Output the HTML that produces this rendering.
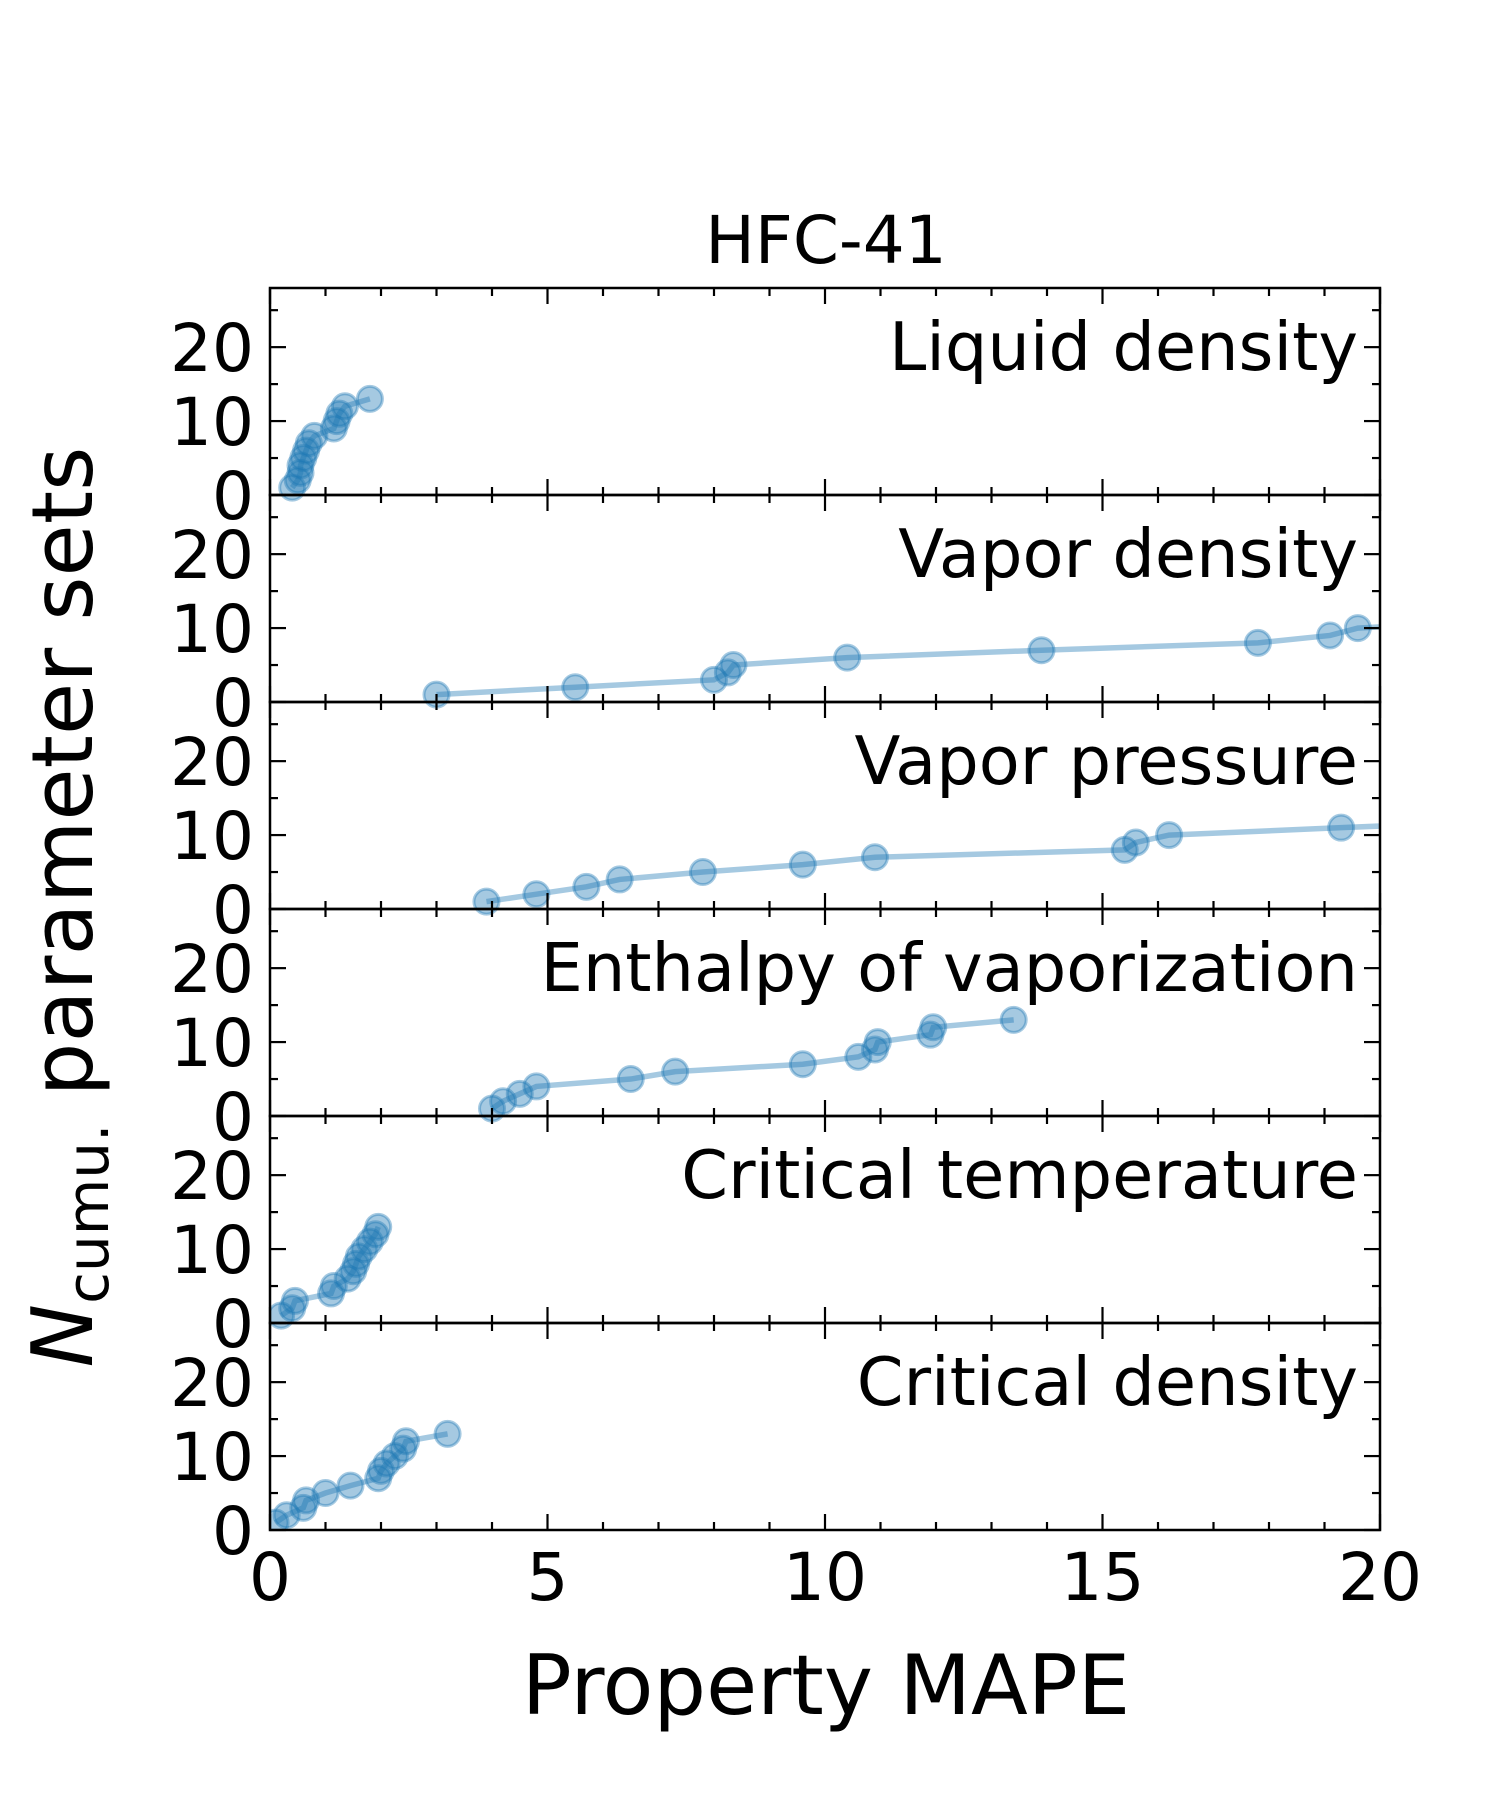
<!DOCTYPE html>
<html><head><meta charset="utf-8"><style>
html,body{margin:0;padding:0;background:#fff;}
svg{display:block;font-family:"DejaVu Sans","Liberation Sans",sans-serif;}
</style></head><body>
<svg id="chart" width="1500" height="1800" viewBox="0 0 1500 1800" xmlns="http://www.w3.org/2000/svg">
<text x="826" y="263" font-size="66" text-anchor="middle">HFC-41</text>
<text x="826" y="1714" font-size="83" text-anchor="middle">Property MAPE</text>
<text transform="translate(92,907) rotate(-90)" font-size="85" text-anchor="middle"><tspan font-style="italic">N</tspan><tspan font-size="58" dy="16">cumu.</tspan><tspan dy="-16"> parameter sets</tspan></text>
<g id="panels"></g>
</svg>
<script>
const panelNames = ["Liquid density","Vapor density","Vapor pressure","Enthalpy of vaporization","Critical temperature","Critical density"];
const liqX = [0.4,0.5,0.55,0.55,0.6,0.65,0.7,0.8,1.15,1.2,1.25,1.35,1.8];
const vapDenX = [3.0,5.5,8.0,8.25,8.35,10.4,13.9,17.8,19.1,19.6,22.0];
const vapPresX = [3.9,4.8,5.7,6.3,7.8,9.6,10.9,15.4,15.6,16.2,19.3,22.5];
const hvapX = [4.0,4.2,4.5,4.8,6.5,7.3,9.6,10.6,10.9,10.95,11.9,11.95,13.4];
const tcX = [0.2,0.4,0.45,1.1,1.15,1.4,1.5,1.55,1.6,1.7,1.8,1.9,1.95];
const rhocX = [0.1,0.3,0.6,0.65,1.0,1.45,1.95,2.0,2.1,2.25,2.4,2.45,3.2];
const seriesX = [liqX,vapDenX,vapPresX,hvapX,tcX,rhocX];
const xTicks = [0,5,10,15,20];
const yTicks = [0,10,20];

const L=270,R=1380,T=288,B=1530,PH=(B-T)/6,XMAX=20,YMAX=28;
const NS="http://www.w3.org/2000/svg";
const X=v=>L+(v/XMAX)*(R-L);
function mk(tag,attrs,parent){const e=document.createElementNS(NS,tag);for(const k in attrs)e.setAttribute(k,attrs[k]);parent.appendChild(e);return e;}
const root=document.getElementById('panels');
const defs=mk('defs',{},root);
const cp=mk('clipPath',{id:'clipall'},defs);
mk('rect',{x:L,y:T,width:R-L,height:B-T},cp);

panelNames.forEach((name,i)=>{
  const top=T+i*PH, bot=top+PH;
  const Y=v=>bot-(v/YMAX)*PH;
  const g=mk('g',{},root);
  
  
  const xs=seriesX[i];
  const sg=mk('g',{'clip-path':'url(#clipall)'},g);
  
  
  const pts=xs.map((v,k)=>X(v)+','+Y(k+1)).join(' ');
  const pl=mk('polyline',{points:pts,fill:'none',stroke:'#1f77b4','stroke-opacity':0.4,'stroke-width':5.5},sg);
  
  
  xs.forEach((v,k)=>{
    const c=mk('circle',{cx:X(v),cy:Y(k+1),r:12.5,fill:'#1f77b4','fill-opacity':0.4,stroke:'#1f77b4','stroke-opacity':0.4,'stroke-width':3},sg);
    
    
  });
  const fr=mk('rect',{x:L,y:top,width:R-L,height:PH,fill:'none',stroke:'#000','stroke-width':2.5},g);
  
  
  for(let v=0;v<=XMAX;v++){
    const major=v%5===0, len=major?16:8, x=X(v);
    mk('line',{x1:x,y1:bot,x2:x,y2:bot-len,stroke:'#000','stroke-width':2.2},g);
    mk('line',{x1:x,y1:top,x2:x,y2:top+len,stroke:'#000','stroke-width':2.2},g);
  }
  for(let v=0;v<YMAX;v+=5){
    const major=v%10===0, len=major?16:8, y=Y(v);
    mk('line',{x1:L,y1:y,x2:L+len,y2:y,stroke:'#000','stroke-width':2.2},g);
    mk('line',{x1:R,y1:y,x2:R-len,y2:y,stroke:'#000','stroke-width':2.2},g);
  }
  yTicks.forEach(v=>{
    const t=mk('text',{x:L-16,y:Y(v)+24,'font-size':66,'text-anchor':'end'},g);
    t.textContent=v;
    
    
  });
  const lab=mk('text',{x:R-22,y:top+82,'font-size':67,'text-anchor':'end'},g);
  lab.textContent=name;
  
  
});
xTicks.forEach(v=>{
  const t=mk('text',{x:X(v),y:1600,'font-size':66,'text-anchor':'middle'},root);
  t.textContent=v;
  
  
});
</script>
</body></html>
